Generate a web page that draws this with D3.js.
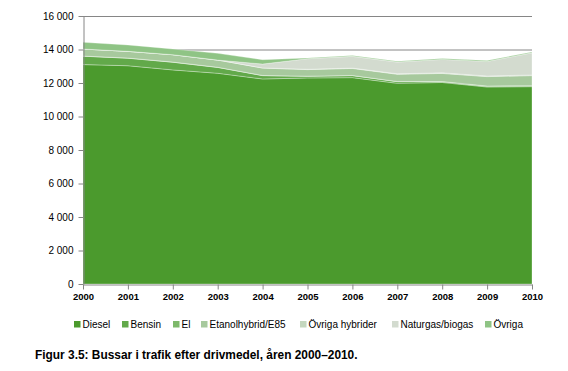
<!DOCTYPE html>
<html><head><meta charset="utf-8">
<script src="https://cdn.jsdelivr.net/npm/d3@7/dist/d3.min.js"></script>
<style>
body{margin:0;background:#fff;}
svg text{font-family:"Liberation Sans",Arial,sans-serif;fill:#000;}
</style></head>
<body><svg id="c" width="568" height="371"></svg>
<script>
const years = [2000,2001,2002,2003,2004,2005,2006,2007,2008,2009,2010];
const seriesNames = ["Diesel","Bensin","El","Etanolhybrid/E85","Övriga hybrider","Naturgas/biogas","Övriga"];
const diesel   = [13100,13030,12780,12580,12240,12300,12320,11980,12030,11760,11780];
const bensin   = [500,450,460,350,200,100,120,100,50,50,50];
const el       = [10,10,10,10,10,10,10,10,10,10,10];
const etanol   = [420,400,440,430,440,390,420,430,480,560,600];
const ovrHyb   = [0,0,0,0,10,20,20,30,40,40,40];
const naturgas = [0,0,0,0,230,630,700,700,800,870,1320];
const ovriga   = [400,380,340,400,260,40,50,50,50,50,50];
const yTicks = [0,2000,4000,6000,8000,10000,12000,14000,16000];
const colors = ["#4b9a2d","#62a94a","#7db86a","#a7c99d","#c4d7be","#d3dbcf","#8fc485"];
const caption = "Figur 3.5: Bussar i trafik efter drivmedel, åren 2000–2010.";

const values = [diesel,bensin,el,etanol,ovrHyb,naturgas,ovriga];
const data = years.map((y,i)=>{const o={year:y};seriesNames.forEach((n,k)=>o[n]=values[k][i]);return o;});

const svg = d3.select("#c");
const m = {l:83,r:36,t:16,b:87};
const W=568,H=371;
const x = d3.scaleLinear().domain([2000,2010]).range([m.l,W-m.r]);
const y = d3.scaleLinear().domain([0,16000]).range([H-m.b,m.t]);
const fmt = v => d3.format(",")(v).replace(/,/g," ");

// gridlines
svg.append("g").selectAll("line").data(yTicks.filter(d=>d>0)).join("line")
  .attr("x1",m.l).attr("x2",W-m.r).attr("y1",d=>y(d)+0.5).attr("y2",d=>y(d)+0.5)
  .attr("stroke","#868686").attr("stroke-width",1);

const stack = d3.stack().keys(seriesNames)(data);
const area = d3.area().x(d=>x(d.data.year)).y0(d=>y(d[0])).y1(d=>y(d[1]));
svg.append("g").selectAll("path").data(stack).join("path")
  .attr("d",area).attr("fill",(d,i)=>colors[i])
  .attr("stroke","#ffffff").attr("stroke-opacity",0.5).attr("stroke-width",0.6);

// y axis
const ya = svg.append("g").attr("transform",`translate(${m.l+0.5},0)`)
  .call(d3.axisLeft(y).tickValues(yTicks).tickFormat(fmt).tickSize(5).tickSizeOuter(0));
ya.select(".domain").attr("stroke","#868686");
ya.selectAll(".tick line").attr("stroke","#868686");
ya.selectAll("text").attr("font-size","10px").attr("x",-10).attr("fill","#000");

// x axis
const xa = svg.append("g").attr("transform",`translate(0,${H-m.b+0.5})`)
  .call(d3.axisBottom(x).tickValues(years).tickFormat(d3.format("d")).tickSize(5).tickSizeOuter(0));
xa.select(".domain").attr("stroke","#868686");
xa.selectAll(".tick line").attr("stroke","#868686");
xa.selectAll("text").attr("font-size","9.5px").attr("y",9).attr("fill","#000").attr("font-weight","bold");

// legend
const legX = [74,122,173,201,300,392,485];
const lg = svg.append("g").selectAll("g").data(seriesNames).join("g")
  .attr("transform",(d,i)=>`translate(${legX[i]},321)`);
lg.append("rect").attr("width",6.5).attr("height",6.5).attr("fill",(d,i)=>colors[i]);
lg.append("text").attr("x",8.5).attr("y",6.5).attr("font-size","10px").text(d=>d);

svg.append("text").attr("x",35).attr("y",359).attr("font-size","11.9px").attr("font-weight","bold").text(caption);
</script></body></html>
